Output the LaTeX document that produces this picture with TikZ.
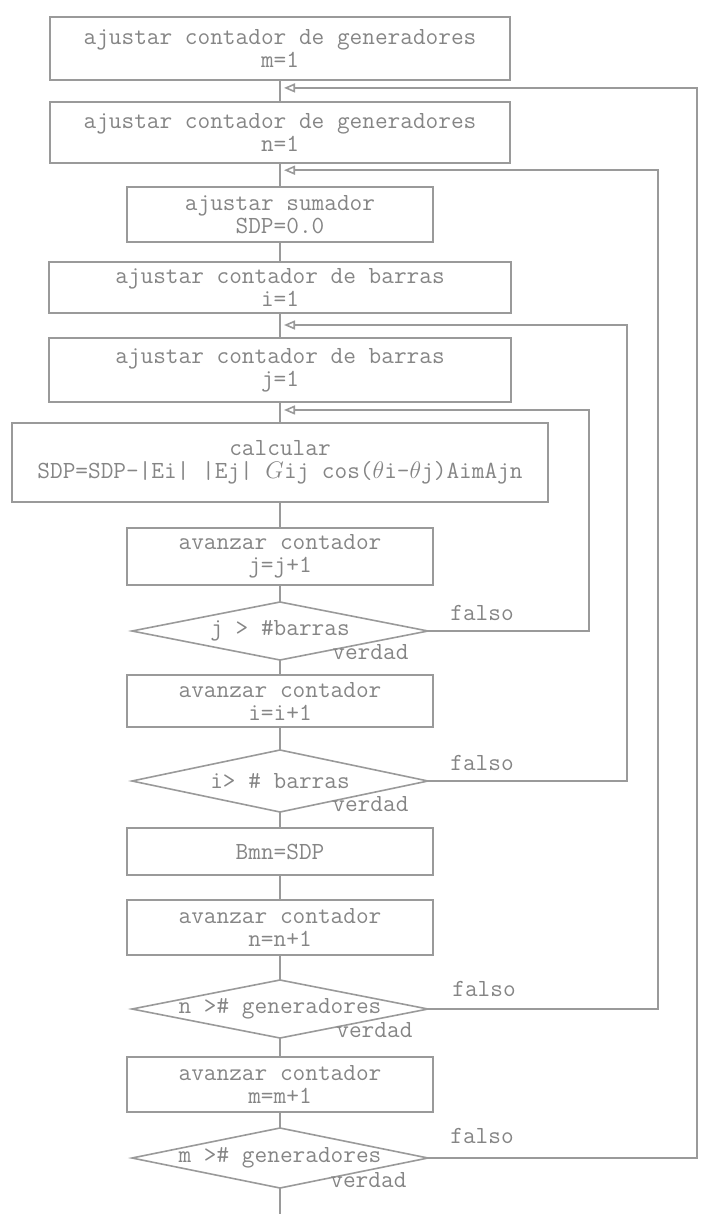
\documentclass[tikz,border=0pt]{standalone}
\usepackage{xcolor}
\usepackage{tikz}
\usetikzlibrary{arrows.meta,positioning,calc,shapes.geometric}
\definecolor{scanline}{HTML}{9A9A9A}
\definecolor{scantext}{HTML}{858585}
\newcommand{\typefont}{\fontsize{12.3}{11.5}\selectfont\ttfamily}

\begin{document}
\begin{tikzpicture}[
    x=0.5pt, y=-0.5pt,
    box/.style={draw=scanline, line width=0.8pt, align=center, outer sep=0pt,
                minimum width=153pt, minimum height=27.5pt, inner sep=0pt,
                text=scantext, font=\typefont},
    decision/.style={diamond, draw=scanline, line width=0.8pt, outer sep=0pt,
                minimum width=148pt, minimum height=29pt, inner sep=0pt},
    dtext/.style={text=scantext, font=\typefont, inner sep=0pt},
    lbl/.style={text=scantext, font=\typefont, inner sep=0pt},
    flow/.style={draw=scanline, line width=0.8pt},
    back/.style={flow, -{Triangle[open, length=5.5pt, width=4.5pt]}, shorten >=2pt}
]
\useasboundingbox (0,0) rectangle (705,1214);
\node[box, minimum width=230pt, minimum height=31.5pt] (mset) at (280,48.5)
    {ajustar contador de generadores\\m=1};
\node[box, minimum width=230pt, minimum height=30.5pt, below=11pt of mset] (nset)
    {ajustar contador de generadores\\n=1};
\node[box, below=12pt of nset] (sumset) {ajustar sumador\\SDP=0.0};
\node[box, minimum width=231pt, minimum height=25.5pt, below=10pt of sumset] (iset)
    {ajustar contador de barras\\i=1};
\node[box, minimum width=231pt, minimum height=32pt, below=12.5pt of iset] (jset)
    {ajustar contador de barras\\j=1};
\node[box, minimum width=268pt, minimum height=39.5pt, below=10.5pt of jset] (sdpcalc)
    {calcular\\SDP=SDP-|Ei| |Ej| $G$ij cos($\theta$i-$\theta$j)AimAjn};
\node[box, minimum height=28.5pt, below=13pt of sdpcalc] (jinc) {avanzar contador\\j=j+1};
\node[decision, below=8.5pt of jinc, label={[dtext]center:{j > \#barras}}] (jtest) {};
\node[box, minimum height=26pt, below=7.5pt of jtest] (iinc) {avanzar contador\\i=i+1};
\node[decision, minimum height=31pt, below=11.5pt of iinc,
      label={[dtext]center:{i> \# barras}}] (itest) {};
\node[box, minimum height=23.5pt, below=8pt of itest] (bmn) {Bmn=SDP};
\node[box, below=12.5pt of bmn] (ninc) {avanzar contador\\n=n+1};
\node[decision, below=12.5pt of ninc, label={[dtext]center:{n >\# generadores}}] (ntest) {};
\node[box, below=9.5pt of ntest] (minc) {avanzar contador\\m=m+1};
\node[decision, minimum height=30pt, below=8pt of minc,
      label={[dtext]center:{m >\# generadores}}] (mtest) {};
\coordinate (fin) at (280,1214);

% puntos de retorno sobre la linea principal
\coordinate (mloop) at ($(mset.south)!0.36!(nset.north)$);
\coordinate (nloop) at ($(nset.south)!0.3!(sumset.north)$);
\coordinate (iloop) at ($(iset.south)!0.48!(jset.north)$);
\coordinate (jloop) at ($(jset.south)!0.38!(sdpcalc.north)$);

\draw[flow] (mset) -- (nset);
\draw[flow] (nset) -- (sumset);
\draw[flow] (sumset) -- (iset);
\draw[flow] (iset) -- (jset);
\draw[flow] (jset) -- (sdpcalc);
\draw[flow] (sdpcalc) -- (jinc);
\draw[flow] (jinc) -- (jtest);
\draw[flow] (jtest) -- (iinc);
\draw[flow] (iinc) -- (itest);
\draw[flow] (itest) -- (bmn);
\draw[flow] (bmn) -- (ninc);
\draw[flow] (ninc) -- (ntest);
\draw[flow] (ntest) -- (minc);
\draw[flow] (minc) -- (mtest);
\draw[flow] (mtest) -- (fin);

% lazos falso
\draw[back] (jtest.east) -- ++(161,0) |- (jloop);
\draw[back] (itest.east) -- ++(199,0) |- (iloop);
\draw[back] (ntest.east) -- ++(230,0) |- (nloop);
\draw[back] (mtest.east) -- ++(269,0) |- (mloop);

\node[lbl, above right=5pt and 11pt of jtest.east] (jno) {falso};
\node[lbl, above right=5pt and 11pt of itest.east] (ino) {falso};
\node[lbl, above right=6pt and 12pt of ntest.east] (nno) {falso};
\node[lbl, above right=7pt and 11pt of mtest.east] (mno) {falso};
\node[lbl, anchor=south west] (jyes) at ([xshift=26pt]jtest.south) {verdad};
\node[lbl, anchor=south west] (iyes) at ([xshift=26pt]itest.south) {verdad};
\node[lbl, anchor=south west] (nyes) at ([xshift=28pt]ntest.south) {verdad};
\node[lbl, anchor=south west] (myes) at ([xshift=25pt]mtest.south) {verdad};
\end{tikzpicture}
\end{document}
